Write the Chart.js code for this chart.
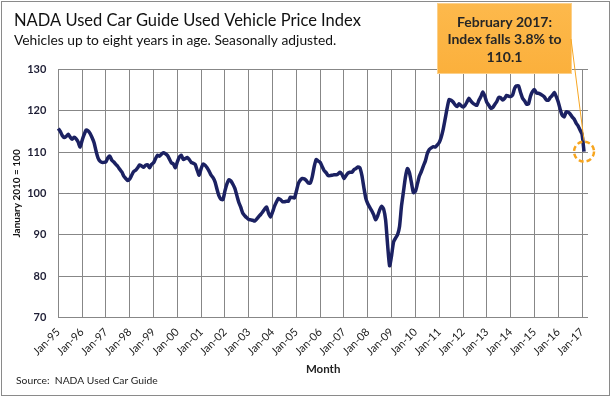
<!DOCTYPE html>
<html><head><meta charset="utf-8">
<script src="https://cdn.jsdelivr.net/npm/chart.js@4.4.1/dist/chart.umd.min.js"></script>
<style>html,body{margin:0;padding:0;background:#fff}#wrap{width:612px;height:398px;position:relative}canvas{display:block}</style>
</head><body><div id="wrap"><canvas id="c" width="612" height="398"></canvas></div>
<script>
const titleText = 'NADA Used Car Guide Used Vehicle Price Index';
const subtitleText = 'Vehicles up to eight years in age. Seasonally adjusted.';
const sourceText = 'Source:  NADA Used Car Guide';
const yAxisTitle = 'January 2010 = 100';
const xAxisTitle = 'Month';
const calloutLines = ['February 2017:', 'Index falls 3.8% to', '110.1'];

const monthNames = ['Jan','Feb','Mar','Apr','May','Jun','Jul','Aug','Sep','Oct','Nov','Dec'];
const yearCodes = ['95','96','97','98','99','00','01','02','03','04','05','06','07','08','09','10','11','12','13','14','15','16','17'];
const tickLabels = ['Jan-95','Jan-96','Jan-97','Jan-98','Jan-99','Jan-00','Jan-01','Jan-02','Jan-03','Jan-04','Jan-05','Jan-06','Jan-07','Jan-08','Jan-09','Jan-10','Jan-11','Jan-12','Jan-13','Jan-14','Jan-15','Jan-16','Jan-17'];
const yTicks = [70, 80, 90, 100, 110, 120, 130];

const v1995 = [115.7,115.0,114.0,113.5,113.8,114.3,113.6,113.1,113.6,113.2,112.4,111.2];
const v1996 = [112.8,114.2,115.3,115.1,114.5,113.5,112.3,110.3,108.6,107.8,107.5,107.5];
const v1997 = [107.6,108.6,109.0,108.0,107.6,107.0,106.5,105.8,105.2,104.2,103.6,103.1];
const v1998 = [103.5,104.4,105.3,105.6,106.2,106.9,106.6,106.3,106.8,106.9,106.2,107.0];
const v1999 = [107.4,108.4,109.2,109.0,109.5,109.8,109.6,109.2,108.3,107.4,107.1,106.2];
const v2000 = [107.6,108.8,109.2,108.2,108.4,108.7,108.2,107.5,107.3,107.0,105.6,104.4];
const v2001 = [106.0,107.1,106.8,106.2,105.4,104.4,103.8,102.8,101.0,99.4,98.6,98.5];
const v2002 = [100.6,102.3,103.3,103.0,102.2,101.2,99.5,97.8,96.6,95.2,94.6,94.1];
const v2003 = [93.7,93.6,93.5,93.3,93.8,94.4,94.9,95.5,96.2,96.7,95.2,94.3];
const v2004 = [95.5,96.9,98.0,98.8,98.5,98.0,98.0,98.1,98.1,99.1,99.0,98.9];
const v2005 = [100.5,102.4,103.2,103.6,103.5,103.1,102.5,102.5,104.0,106.5,108.2,107.8];
const v2006 = [107.5,106.5,105.5,105.0,104.3,104.3,104.4,104.5,104.5,104.7,105.1,104.6];
const v2007 = [103.6,104.3,104.9,105.1,105.1,105.7,106.0,106.4,106.2,104.4,101.5,98.8];
const v2008 = [97.5,96.6,95.8,94.8,93.6,94.6,96.0,96.9,96.2,93.5,87.5,82.5];
const v2009 = [85.0,88.3,89.2,90.0,92.0,97.0,100.5,104.0,106.0,105.0,102.6,100.2];
const v2010 = [100.5,102.3,104.2,105.3,106.6,107.8,109.6,110.6,111.0,111.3,111.2,111.7];
const v2011 = [112.3,113.6,115.5,118.0,120.6,122.7,122.5,122.1,121.4,121.0,121.7,121.2];
const v2012 = [120.9,121.3,122.1,123.0,122.3,121.8,121.5,121.3,122.5,123.4,124.5,123.5];
const v2013 = [122.0,121.3,120.6,120.8,121.5,122.2,123.2,123.1,122.6,123.0,123.7,123.5];
const v2014 = [123.4,123.8,125.4,126.0,126.0,124.4,123.0,122.4,121.6,121.6,123.5,124.6];
const v2015 = [125.1,124.3,124.2,124.0,123.7,123.3,122.6,122.5,123.2,123.7,124.4,123.4];
const v2016 = [122.1,120.3,118.9,118.5,119.7,119.6,119.2,118.5,118.0,117.0,116.3,115.3];
const v2017 = [114.3,110.1];

const priceIndex = [].concat(v1995,v1996,v1997,v1998,v1999,v2000,v2001,v2002,v2003,v2004,v2005,v2006,v2007,v2008,v2009,v2010,v2011,v2012,v2013,v2014,v2015,v2016,v2017);

const categories = [];
for (const y of yearCodes) for (const m of monthNames) categories.push(m + '-' + y);
categories.length = priceIndex.length + 2;

const FONT = 'Lato, "Open Sans", sans-serif';

const decor = {
  id: 'decor',
  afterDraw(chart) {
    const ctx = chart.ctx;
    const xs = chart.scales.x, ys = chart.scales.y;
    ctx.save();
    ctx.strokeStyle = '#8a8a8a'; ctx.lineWidth = 1;
    ctx.strokeRect(1.5, 1.5, 608, 394);
    ctx.fillStyle = '#111'; ctx.textAlign = 'left'; ctx.textBaseline = 'alphabetic';
    ctx.font = '16.5px ' + FONT; ctx.fillText(titleText, 14, 26);
    ctx.font = '13.8px ' + FONT; ctx.fillText(subtitleText, 14, 45);
    ctx.font = '10.3px ' + FONT; ctx.fillStyle = '#222'; ctx.fillText(sourceText, 16, 384);

    const last = priceIndex.length - 1;
    const px = xs.getPixelForValue(last), py = ys.getPixelForValue(priceIndex[last]);
    const g = ctx.createLinearGradient(0, 3, 0, 74);
    g.addColorStop(0, '#fdb94c'); g.addColorStop(1, '#fbb03c');
    ctx.fillStyle = g; ctx.fillRect(437, 3, 135, 71);
    ctx.strokeStyle = '#fcd08a'; ctx.lineWidth = 1;
    ctx.strokeRect(437.5, 3.5, 134, 70);
    ctx.fillStyle = '#262626'; ctx.textAlign = 'center'; ctx.textBaseline = 'middle';
    ctx.font = 'bold 14px ' + FONT;
    calloutLines.forEach((t, i) => ctx.fillText(t, 504.5, 22 + i * 17.5));
    ctx.strokeStyle = '#f6a623'; ctx.lineWidth = 1;
    ctx.beginPath(); ctx.moveTo(571, 39); ctx.lineTo(px, py - 11); ctx.stroke();
    ctx.setLineDash([5, 3]); ctx.lineWidth = 2.5; ctx.strokeStyle = '#f7a51e';
    ctx.beginPath(); ctx.arc(px, py, 10, 0, Math.PI * 2); ctx.stroke();
    ctx.restore();
  }
};

new Chart(document.getElementById('c'), {
  type: 'line',
  data: {
    labels: categories,
    datasets: [{
      data: priceIndex,
      borderColor: '#1b2162',
      borderWidth: 3.5,
      pointRadius: 0,
      tension: 0.2,
      fill: false
    }]
  },
  options: {
    responsive: false,
    devicePixelRatio: 1,
    animation: false,
    layout: { padding: { left: 8, right: 24, top: 69.3, bottom: 20 } },
    plugins: { legend: { display: false }, tooltip: { enabled: false } },
    scales: {
      x: {
        type: 'category',
        offset: false,
        border: { display: false },
        grid: {
          drawTicks: false,
          lineWidth: 1,
          color: c => (tickLabels.includes(categories[c.index]) ? '#878787' : 'rgba(0,0,0,0)')
        },
        ticks: {
          autoSkip: false,
          minRotation: 45,
          maxRotation: 45,
          padding: 8,
          color: '#222',
          font: { family: FONT, size: 11 },
          callback: (v, i) => (tickLabels.includes(categories[i]) ? categories[i] : '')
        },
        title: { display: true, text: xAxisTitle, color: '#222', font: { family: FONT, size: 11.5, weight: 'bold' }, padding: { top: 0, bottom: 2 } },
        afterFit: s => { s.height = 60.5; }
      },
      y: {
        min: yTicks[0],
        max: yTicks[yTicks.length - 1],
        border: { display: false },
        grid: { drawTicks: false, color: '#878787', lineWidth: 1 },
        afterBuildTicks: s => { s.ticks = yTicks.map(v => ({ value: v })); },
        ticks: { padding: 12, color: '#1e1e35', font: { family: FONT, size: 11, weight: 'bold' } },
        title: { display: true, text: yAxisTitle, color: '#111', font: { family: FONT, size: 10, weight: 'bold' }, padding: { top: 3, bottom: 0 } },
        afterFit: s => { s.width = 50.3; }
      }
    }
  },
  plugins: [decor]
});
</script></body></html>
